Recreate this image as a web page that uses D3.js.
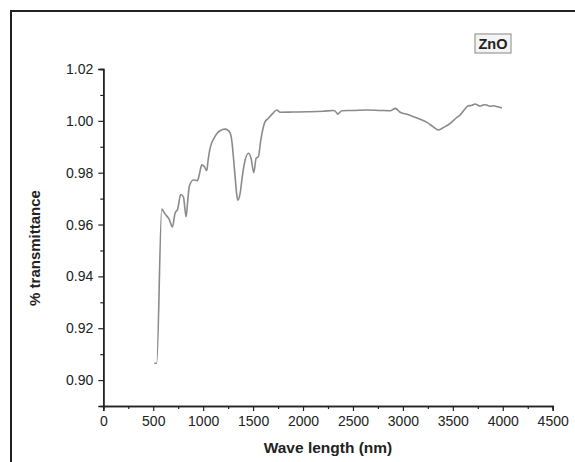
<!DOCTYPE html>
<html>
<head>
<meta charset="utf-8">
<script src="https://cdn.jsdelivr.net/npm/d3@7"></script>
<style>
  body { margin: 0; background: #fff; }
  svg { display: block; font-family: "Liberation Sans", Arial, sans-serif; }
</style>
</head>
<body>
<svg id="canvas"></svg>
<script>
// wavelength (nm) and transmittance
const wavelength = [
  511, 535, 585, 595, 620, 660, 692, 718, 745, 775, 802, 829, 845, 862, 902, 942,
  960, 986, 1012, 1036, 1050, 1069, 1109, 1140, 1169, 1219, 1250, 1263, 1280, 1290,
  1305, 1320, 1335, 1347, 1370, 1390, 1413, 1453, 1480, 1507, 1530, 1553, 1577,
  1620, 1654, 1697, 1737, 1771, 1900, 2038, 2200, 2305, 2339, 2345, 2389, 2500,
  2640, 2780, 2873, 2923, 2973, 3040, 3106, 3180, 3241, 3300, 3357, 3410, 3474,
  3530, 3574, 3620, 3651, 3690, 3724, 3750, 3774, 3810, 3841, 3870, 3908, 3950, 3992
];
const transmittance = [
  0.9065, 0.9065, 0.966, 0.9655, 0.964, 0.962, 0.9591, 0.9643, 0.966, 0.9716, 0.9707, 0.963, 0.969, 0.9749, 0.9772, 0.9769,
  0.979, 0.983, 0.9823, 0.9808, 0.985, 0.9894, 0.9933, 0.9952, 0.9962, 0.9968, 0.9963, 0.9958, 0.994, 0.9913,
  0.985, 0.9784, 0.972, 0.9694, 0.972, 0.978, 0.9836, 0.9875, 0.9855, 0.98, 0.9855, 0.9862, 0.9926,
  0.9997, 1.001, 1.0029, 1.0042, 1.0033, 1.0034, 1.0035, 1.0037, 1.004, 1.003, 1.0026, 1.0039, 1.004,
  1.0042, 1.004, 1.0039, 1.0048, 1.0033, 1.0025, 1.0016, 1.0005, 0.9994, 0.9978, 0.9965, 0.9975, 0.999,
  1.001, 1.0023, 1.0045, 1.0057, 1.006, 1.0065, 1.006, 1.0057, 1.0062, 1.0061, 1.0056, 1.0058, 1.0054, 1.005
];

const xTicks = [0, 500, 1000, 1500, 2000, 2500, 3000, 3500, 4000, 4500];
const yTicks = [0.90, 0.92, 0.94, 0.96, 0.98, 1.00, 1.02];
const legendLabel = "ZnO";

const width = 575;
const height = 462;
const margin = { top: 69, right: 22.3, bottom: 56, left: 103.3 };

const canvas = d3.select("#canvas").attr("width", width).attr("height", height);

canvas.append("rect").attr("width", width).attr("height", height).attr("fill", "#fff");

// frame (only top and left edges are visible in the picture)
canvas.append("path")
  .attr("d", `M11,${height} L11,11 L${width},11`)
  .attr("fill", "none")
  .attr("stroke", "#222")
  .attr("stroke-width", 2);

const xScale = d3.scaleLinear()
  .domain([0, 4500])
  .range([margin.left, width - margin.right]);

const yScale = d3.scaleLinear()
  .domain([0.89, 1.02])
  .range([height - margin.bottom, margin.top]);

// minor ticks
const xMinor = d3.axisBottom(xScale).tickValues(d3.range(250, 4500, 500)).tickSize(3).tickFormat("");
const yMinor = d3.axisLeft(yScale).tickValues(d3.range(0.91, 1.02, 0.02)).tickSize(3).tickFormat("");

const xAxis = d3.axisBottom(xScale).tickValues(xTicks).tickSize(5).tickPadding(5).tickFormat(d3.format("d"));
const yAxis = d3.axisLeft(yScale).tickValues(yTicks).tickSize(5).tickPadding(5).tickFormat(d3.format(".2f"));

const styleAxis = (g) => {
  g.select(".domain").attr("stroke", "#222").attr("stroke-width", 1.5);
  g.selectAll(".tick line").attr("stroke", "#222").attr("stroke-width", 1.2);
  g.selectAll(".tick text").attr("fill", "#222").attr("font-size", 14).attr("font-family", "Liberation Sans, Arial, sans-serif");
};

canvas.append("g")
  .attr("transform", `translate(0, ${height - margin.bottom})`)
  .call(xMinor).call(styleAxis);
canvas.append("g")
  .attr("transform", `translate(${margin.left}, 0)`)
  .call(yMinor).call(styleAxis);

canvas.append("g")
  .attr("id", "x-axis")
  .attr("transform", `translate(0, ${height - margin.bottom})`)
  .call(xAxis).call(styleAxis);

canvas.append("g")
  .attr("id", "y-axis")
  .attr("transform", `translate(${margin.left}, 0)`)
  .call(yAxis).call(styleAxis);

// axis titles
canvas.append("text")
  .attr("x", 328)
  .attr("y", 453)
  .attr("text-anchor", "middle")
  .attr("font-size", 15.5)
  .attr("font-weight", "bold")
  .attr("fill", "#222")
  .text("Wave length (nm)");

canvas.append("text")
  .attr("transform", "translate(40, 248) rotate(-90)")
  .attr("text-anchor", "middle")
  .attr("font-size", 15)
  .attr("font-weight", "bold")
  .attr("fill", "#222")
  .text("% transmittance");

// the spectrum
const points = wavelength.map((w, i) => [w, transmittance[i]]);
const line = d3.line()
  .x((d) => xScale(d[0]))
  .y((d) => yScale(d[1]))
  .curve(d3.curveMonotoneX);

canvas.append("path")
  .datum(points)
  .attr("d", line)
  .attr("fill", "none")
  .attr("stroke", "#8a8a8a")
  .attr("stroke-width", 1.6)
  .attr("stroke-linejoin", "round");

// legend box
const legend = canvas.append("g").attr("transform", "translate(475, 34)");
legend.append("rect")
  .attr("width", 36)
  .attr("height", 19)
  .attr("fill", "#f4f4f4")
  .attr("stroke", "#999")
  .attr("stroke-width", 1.2);
legend.append("text")
  .attr("x", 18)
  .attr("y", 14.5)
  .attr("text-anchor", "middle")
  .attr("font-size", 14.5)
  .attr("font-weight", "bold")
  .attr("fill", "#222")
  .text(legendLabel);
</script>
</body>
</html>
